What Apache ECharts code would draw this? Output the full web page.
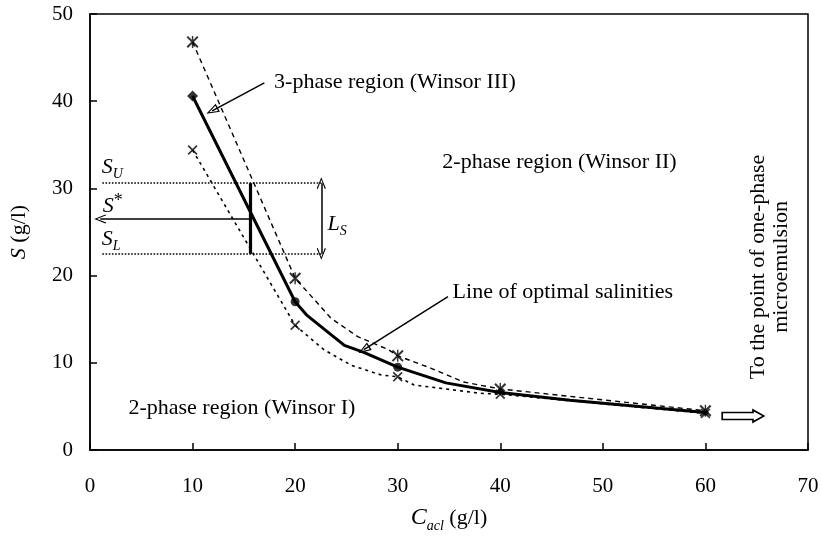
<!DOCTYPE html>
<html>
<head>
<meta charset="utf-8">
<title>Line of optimal salinities</title>
<script src="https://cdn.jsdelivr.net/npm/echarts@6/dist/echarts.min.js"></script>
<style>
  html, body { margin: 0; padding: 0; background: #fff; }
  #chart { width: 822px; height: 544px; }
</style>
</head>
<body>
<div id="chart"></div>
<script>
// measured points: C_acl (g/l) -> S (g/l)
var cAcl = [10, 20, 30, 40, 60];
var sUpper = [46.8, 19.7, 10.8, 7.0, 4.5];
var sOptimal = [40.6, 17.0, 9.5, 6.7, 4.3];
var sLower = [34.4, 14.3, 8.4, 6.4, 4.2];

var upperCurveX = [10, 20, 21.3, 23.5, 26.1, 29.1, 30, 33.2, 36.4, 40, 60];
var upperCurveY = [46.8, 19.7, 18.0, 15.1, 13.0, 11.5, 10.8, 9.4, 7.8, 7.0, 4.5];
var optCurveX = [10, 20, 21.1, 24.8, 26.7, 30, 34.7, 40, 46.8, 60];
var optCurveY = [40.6, 17.0, 15.5, 12.0, 11.2, 9.5, 7.7, 6.6, 5.7, 4.3];
var lowerCurveX = [10, 20, 22.8, 25.5, 28.4, 30, 31.6, 38.1, 40, 60];
var lowerCurveY = [34.4, 14.3, 11.5, 9.7, 8.6, 8.4, 7.45, 6.5, 6.4, 4.2];

// S_U, S*, S_L and the C_acl where the bar sits
var salU = 30.6, salStar = 26.5, salL = 22.5;
var cStar = 15.6;

var xTickLabels = ['0', '10', '20', '30', '40', '50', '60', '70'];
var yTickLabels = ['0', '10', '20', '30', '40', '50'];

function zip(xs, ys) {
  return xs.map(function (x, i) { return [x, ys[i]]; });
}

var asterisk = 'path://M0,1.2L1.2,0L10,8.8L8.8,10Z M8.8,0L10,1.2L1.2,10L0,8.8Z M4.4,0L5.6,0L5.6,10L4.4,10Z';
var cross = 'path://M0,1.2L1.2,0L10,8.8L8.8,10Z M8.8,0L10,1.2L1.2,10L0,8.8Z';
var openHead = 'path://M0,10L5,0L10,10L9,10.8L5,2.4L1,10.8Z';
var hollowHead = 'path://M5,0L10,14L0,14Z M5,3.5L1.8,12.6L8.2,12.6Z';
var blockArrow = 'path://M0,3L28,3L28,0L40,7L28,14L28,11L0,11Z M1.5,4.5L1.5,9.5L29.5,9.5L29.5,11.3L37,7L29.5,2.7L29.5,4.5Z';

var FONT = 'Liberation Serif';
var subRich = {
  i: { fontStyle: 'italic', fontSize: 22, lineHeight: 28, fontFamily: FONT, color: '#000' },
  ib: { fontStyle: 'italic', fontSize: 24, lineHeight: 30, fontFamily: FONT, color: '#000' },
  sub: { fontStyle: 'italic', fontSize: 14, lineHeight: 10, verticalAlign: 'bottom', fontFamily: FONT, color: '#000' },
  sup: { fontSize: 18, lineHeight: 15, verticalAlign: 'top', fontFamily: FONT, color: '#000' },
  n: { fontSize: 22, lineHeight: 28, fontFamily: FONT, color: '#000' }
};

function textPoint(x, y, text, extra) {
  var lbl = {
    show: true, position: 'right', distance: 0, formatter: text,
    color: '#000', fontSize: 22, fontFamily: FONT, rich: subRich
  };
  if (extra) for (var k in extra) lbl[k] = extra[k];
  return { coord: [x, y], label: lbl };
}

var optMarkers = cAcl.map(function (c, i) {
  return { value: [c, sOptimal[i]], symbol: i === 0 ? 'diamond' : 'circle', symbolSize: i === 0 ? 11 : (i < 3 ? 9 : 6) };
});

var chart = echarts.init(document.getElementById('chart'));

var option = {
  animation: false,
  textStyle: { fontFamily: FONT, color: '#000' },
  grid: { left: 88, right: 14, top: 14, bottom: 94, show: true, borderColor: '#000', borderWidth: 1.5 },
  xAxis: {
    type: 'value', min: 0, max: 70, interval: 10,
    axisLine: { show: true, lineStyle: { color: '#000', width: 1.5 } },
    axisTick: { show: true, inside: true, length: 7, lineStyle: { color: '#000', width: 1.5 } },
    axisLabel: {
      fontSize: 21, color: '#000', margin: 26, fontFamily: FONT,
      formatter: function (v) { return xTickLabels[v / 10]; }
    },
    splitLine: { show: false },
    name: '{ib|C}{sub|acl}{n| (g/l)}',
    nameLocation: 'middle', nameGap: 53,
    nameTextStyle: { rich: subRich }
  },
  yAxis: {
    type: 'value', min: 0, max: 50, interval: 10,
    axisLine: { show: true, lineStyle: { color: '#000', width: 1.5 } },
    axisTick: { show: true, inside: true, length: 7, lineStyle: { color: '#000', width: 1.5 } },
    axisLabel: {
      fontSize: 21, color: '#000', margin: 17, fontFamily: FONT,
      formatter: function (v) { return yTickLabels[v / 10]; }
    },
    splitLine: { show: false },
    name: '{i|S}{n| (g/l)}',
    nameLocation: 'middle', nameGap: 57, nameRotate: 90,
    nameTextStyle: { rich: subRich }
  },
  series: [
    {
      name: 'upper', type: 'line', data: zip(upperCurveX, upperCurveY),
      symbol: 'none', silent: true,
      lineStyle: { color: '#000', width: 1.4, type: [5, 4] }
    },
    {
      name: 'lower', type: 'line', data: zip(lowerCurveX, lowerCurveY),
      symbol: 'none', silent: true,
      lineStyle: { color: '#000', width: 1.6, type: [3, 4] }
    },
    {
      name: 'optimal', type: 'line', data: zip(optCurveX, optCurveY),
      symbol: 'none', silent: true,
      lineStyle: { color: '#000', width: 3 },
      markLine: {
        silent: true, animation: false, symbol: 'none', precision: 2,
        label: { show: false },
        data: [
          [{ coord: [1.2, salU], lineStyle: { type: 'dotted', width: 1.6, color: '#000' } }, { coord: [22.55, salU] }],
          [{ coord: [1.2, salL], lineStyle: { type: 'dotted', width: 1.6, color: '#000' } }, { coord: [22.55, salL] }],
          [{ coord: [cStar, salStar], lineStyle: { type: 'solid', width: 1.5, color: '#000' } },
           { coord: [1.0, salStar], symbol: openHead, symbolSize: [9, 12] }],
          [{ coord: [cStar, salL], lineStyle: { type: 'solid', width: 3.2, color: '#000' } }, { coord: [cStar, salU] }],
          [{ coord: [22.55, salL], symbol: openHead, symbolSize: [9, 12], lineStyle: { type: 'solid', width: 1.5, color: '#000' } },
           { coord: [22.55, salU], symbol: openHead, symbolSize: [9, 12] }],
          [{ coord: [17.0, 42.1], lineStyle: { type: 'solid', width: 1.5, color: '#000' } },
           { coord: [11.9, 38.9], symbol: hollowHead, symbolSize: [9, 13] }],
          [{ coord: [34.9, 17.6], lineStyle: { type: 'solid', width: 1.5, color: '#000' } },
           { coord: [26.7, 11.5], symbol: hollowHead, symbolSize: [9, 13] }]
        ]
      },
      markPoint: {
        silent: true, animation: false, symbol: 'circle', symbolSize: 1,
        itemStyle: { color: 'rgba(0,0,0,0)' },
        data: [
          textPoint(17.9, 42.2, '3-phase region (Winsor III)'),
          textPoint(34.3, 33.0, '2-phase region (Winsor II)'),
          textPoint(35.3, 18.1, 'Line of optimal salinities'),
          textPoint(3.7, 4.8, '2-phase region (Winsor I)'),
          textPoint(1.1, 32.4, '{i|S}{sub|U}'),
          textPoint(1.2, 27.9, '{i|S}{sup|*}'),
          textPoint(1.1, 24.2, '{i|S}{sub|L}'),
          textPoint(23.1, 25.9, '{i|L}{sub|S}'),
          textPoint(66.3, 21.0, 'To the point of one-phase\nmicroemulsion',
            { position: 'inside', rotate: 90, align: 'center', verticalAlign: 'middle', lineHeight: 23 }),
          { coord: [63.7, 3.9], symbol: blockArrow, symbolSize: [44, 15], itemStyle: { color: '#000' }, label: { show: false } }
        ]
      }
    },
    {
      name: 'upper points', type: 'scatter', data: zip(cAcl, sUpper),
      symbol: asterisk, symbolSize: 12, itemStyle: { color: '#000' }, z: 5
    },
    {
      name: 'optimal points', type: 'scatter', data: optMarkers,
      itemStyle: { color: '#000' }, z: 5
    },
    {
      name: 'lower points', type: 'scatter', data: zip(cAcl, sLower),
      symbol: cross, symbolSize: 10, itemStyle: { color: '#000' }, z: 5
    }
  ]
};

chart.setOption(option);
window.addEventListener('resize', function () { chart.resize(); });
</script>
</body>
</html>
